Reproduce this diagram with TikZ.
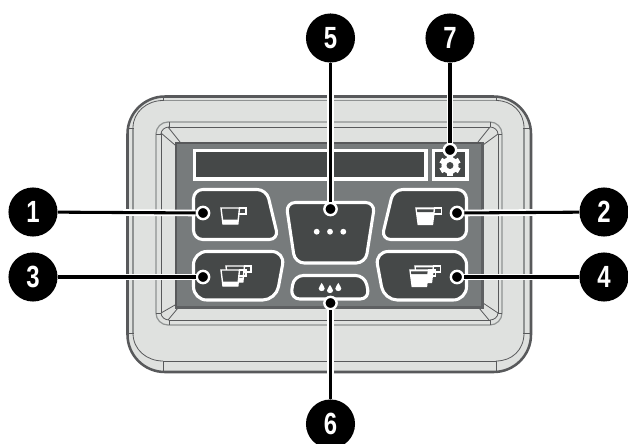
\documentclass[tikz,border=0pt]{standalone}
\usepackage{fontspec}
\usepackage{graphicx}
\setmainfont{Liberation Sans}
\definecolor{body}{HTML}{DFE1DF}
\definecolor{edge}{HTML}{58595B}
\definecolor{soft}{HTML}{8F9292}
\definecolor{screen}{HTML}{777B7C}
\definecolor{panel}{HTML}{454848}
\newcommand{\cupOpen}[2]{%
  \begin{scope}[shift={(#1,#2)}]
    \draw[icon] (17.5,0) -- (25,0) -- (25,6) -- (17.5,6);
    \draw[icon,fill=panel] (0,0) -- (18.5,0) -- (16.8,16) -- (2,16) -- cycle;
    \fill[white] (1.2,11.5) -- (17.3,11.5) -- (16.8,16.2) -- (2,16.2) -- cycle;
  \end{scope}}
\newcommand{\cupFull}[2]{%
  \begin{scope}[shift={(#1,#2)}]
    \draw[icon] (17.5,0) -- (25.5,0) -- (25.5,6) -- (17.5,6);
    \draw[icon,fill=white] (0,0) -- (18.5,0) -- (16.5,16.3) -- (2.2,16.3) -- cycle;
    \fill[panel] (1,1.4) -- (17.6,1.4) -- (17.3,4) -- (1.3,4) -- cycle;
  \end{scope}}
\newcommand{\dropIcon}[2]{%
  \fill[white] (#1,#2-4.6) .. controls (#1+.6,#2-2.4) and (#1+3,#2-1.2) .. (#1+3,#2+1)
    .. controls (#1+3,#2+4.4) and (#1-3,#2+4.4) .. (#1-3,#2+1)
    .. controls (#1-3,#2-1.2) and (#1-.6,#2-2.4) .. (#1,#2-4.6) -- cycle;}
\tikzset{
  x=0.75pt,y=-0.75pt,
  outline/.style={draw=edge,line width=1.9pt},
  thinline/.style={draw=edge,line width=.6pt},
  softline/.style={draw=soft,line width=.9pt},
  btn/.style={draw=white,fill=panel,line width=2.3pt,rounded corners=7pt,line join=round},
  box/.style={draw=white,fill=panel,line width=2.3pt},
  icon/.style={draw=white,line width=1.05pt,line join=miter},
  badge/.style={circle,fill=black,minimum size=36.8pt,inner sep=0pt,text=white,font=\bfseries\fontsize{23}{23}\selectfont},
  tipdot/.style={circle,fill=black,draw=white,line width=1.8pt,minimum size=9.2pt,inner sep=0pt},
  halo/.style={draw=white,line width=5pt},
  lead/.style={draw=black,line width=2.3pt},
}
\begin{document}
\begin{tikzpicture}
\useasboundingbox (0,0) rectangle (628,443);
% housing
\draw[outline,fill=body,rounded corners=28pt] (127.5,96.5) rectangle (531,372);
\draw[softline] (133,128) -- (133,333);
\draw[softline] (163,100.5) -- (496,100.5);
\draw[softline] (524,128) -- (524,333);
\draw[thinline] (133,128) .. controls (133,112) and (147,100.5) .. (163,100.5);
\draw[thinline] (496,100.5) .. controls (512,100.5) and (524,112) .. (524,128);
\draw[thinline] (133,333) .. controls (133,350) and (147,361) .. (163,361);
\draw[thinline] (496,361) .. controls (512,361) and (524,350) .. (524,333);
\draw[thinline] (163,361) -- (496,361);
\draw[thinline] (127,128) -- (134,128) (127,333) -- (134,333) (523,128) -- (531,128) (523,333) -- (531,333);
\draw[thinline] (163,96) -- (163,101) (496,96) -- (496,101) (163,361) -- (163,372) (496,361) -- (496,372);
% recess
\draw[softline,rounded corners=9pt] (156,122) rectangle (502,325);
\draw[thinline] (169,127) -- (490,127) (161,134) -- (161,313) (169,320) -- (490,320) (498,134) -- (498,313);
\draw[thinline] (161,134) .. controls (161,130) and (165,127) .. (169,127);
\draw[thinline] (490,127) .. controls (494,127) and (498,130) .. (498,134);
\draw[thinline] (161,313) .. controls (161,317) and (165,320) .. (169,320);
\draw[thinline] (490,320) .. controls (494,320) and (498,317) .. (498,313);
\draw[thinline] (156,134) -- (161,134) (156,313) -- (161,313) (498,134) -- (502,134) (498,313) -- (502,313);
\draw[thinline] (169,122) -- (169,127) (490,122) -- (490,127) (169,320) -- (169,325) (490,320) -- (490,325);
% bevels
\draw[thinline] (161,133) -- (175,145) (168,127) -- (180,142);
\draw[thinline] (498,134) -- (483,145) (490,127) -- (478,142);
\draw[thinline] (161,313) -- (175,305) (168,320) -- (178,308);
\draw[thinline] (498,313) -- (483,303) (489,320) -- (479,308);
% screen
\fill[screen] (175,142) rectangle (483,308);
\fill[edge] (175,141.5) rectangle (483,144);
\fill[edge] (175,141.5) rectangle (177,308);
\fill[edge!80!screen] (480.5,141.5) rectangle (483.5,308.5);
\fill[edge!80!screen] (175,305.5) rectangle (483.5,308.5);
% display and settings box
\draw[box] (194.5,150.5) rectangle (426,179);
\draw[box] (433.5,150.5) rectangle (467,179);
% buttons
\draw[btn] (193.5,189.5) -- (266.5,189.5) -- (278.5,239.5) -- (193.5,239.5) -- cycle;
\draw[btn] (466.5,189.5) -- (393.5,189.5) -- (381.5,239.5) -- (466.5,239.5) -- cycle;
\draw[btn,rounded corners=10pt] (193.5,251.5) -- (285,251.5) -- (276,300) -- (193.5,300) -- cycle;
\draw[btn,rounded corners=10pt] (466.5,251.5) -- (375,251.5) -- (384,300) -- (466.5,300) -- cycle;
\draw[btn] (286,202.5) -- (375,202.5) -- (365.5,263) -- (295,263) -- cycle;
\draw[btn] (294,275.5) -- (365,275.5) -- (369.5,299) -- (290.5,299) -- cycle;
% icons
\cupOpen{221}{208}
\cupFull{416}{208}
\cupOpen{226}{266}
\cupOpen{221}{270}
\cupFull{415}{266}
\cupFull{410}{270}
\foreach \px in {316.7,330,343.3} \fill[white] (\px,231.7) circle[radius=2.2pt];
\dropIcon{321.7}{287.5}
\dropIcon{330}{289.5}
\dropIcon{338.3}{287.5}
% gear
\foreach \ang in {90,30,-30,-90,-150,150}
  \draw[white,line width=4pt] (450,165.5) ++(\ang:6) -- ++(\ang:4.6);
\fill[white] (450,165.5) circle[radius=6.4pt];
\fill[panel] (450,165.5) circle[radius=2.6pt];
% callouts
\node[badge] (b1) at (33,212) {\scalebox{.78}[1]{1}};
\node[badge] (b2) at (604,212) {\scalebox{.78}[1]{2}};
\node[badge] (b3) at (33,277) {\scalebox{.78}[1]{3}};
\node[badge] (b4) at (604,277) {\scalebox{.78}[1]{4}};
\node[badge] (b5) at (330.5,38) {\scalebox{.78}[1]{5}};
\node[badge] (b6) at (330.5,424) {\scalebox{.78}[1]{6}};
\node[badge] (b7) at (450,38) {\scalebox{.78}[1]{7}};
\node[tipdot] (d1) at (203,213) {};
\node[tipdot] (d2) at (457,213) {};
\node[tipdot] (d3) at (203,277) {};
\node[tipdot] (d4) at (457,277) {};
\node[tipdot] (d5) at (330.5,209) {};
\node[tipdot] (d6) at (330.5,303) {};
\node[tipdot] (d7) at (450,150) {};
\foreach \i/\j in {b1/d1,b2/d2,b3/d3,b4/d4,b5/d5,b6/d6,b7/d7} {
  \draw[halo] (\i) -- (\j);
  \draw[lead] (\i) -- (\j);
}
\end{tikzpicture}
\end{document}
